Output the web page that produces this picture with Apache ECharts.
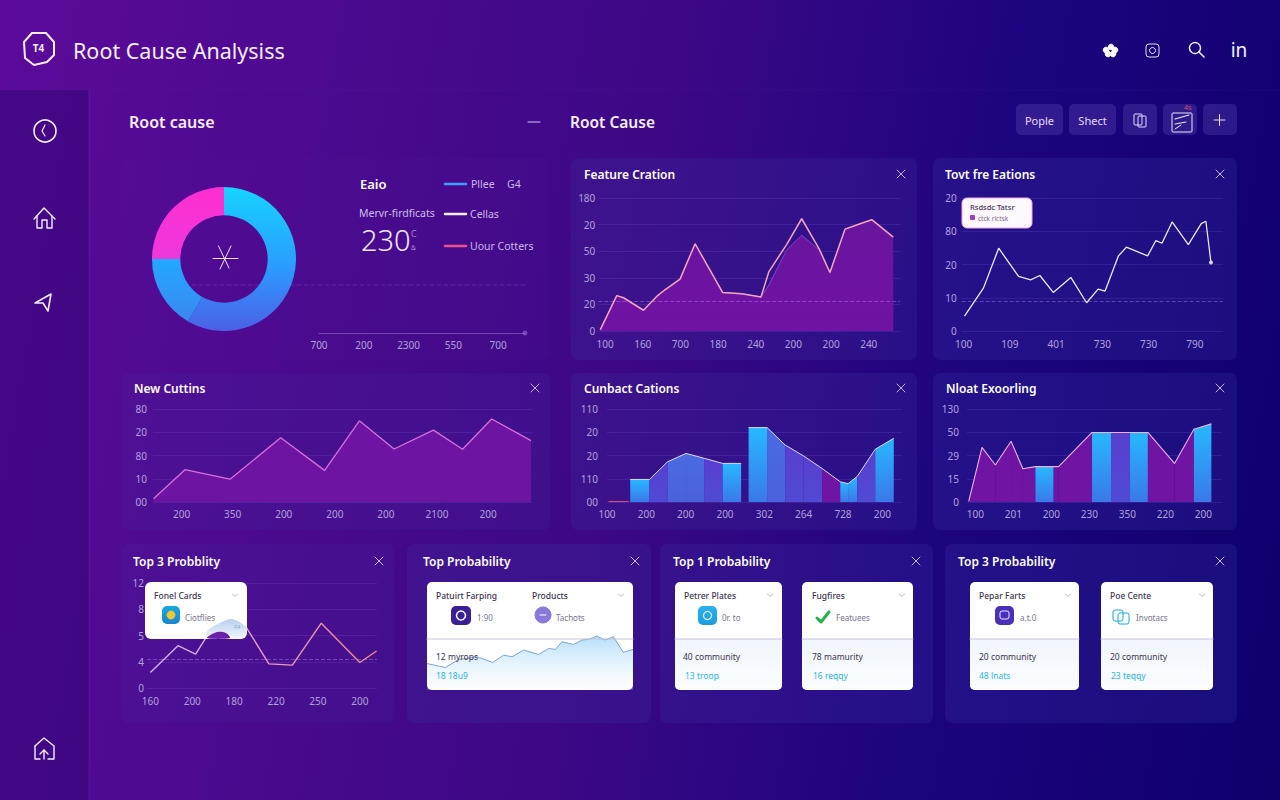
<!DOCTYPE html>
<html>
<head>
<meta charset="utf-8">
<title>Root Cause Analysis</title>
<script src="https://cdn.jsdelivr.net/npm/echarts@6/dist/echarts.min.js"></script>
<style>
  html, body { margin: 0; padding: 0; width: 1280px; height: 800px; overflow: hidden; }
  body { background: linear-gradient(100deg, #5c0a9a 0%, #4c0a90 22%, #3c0886 48%, #1e0480 72%, #0e006c 100%); }
  #main { width: 1280px; height: 800px; }
</style>
</head>
<body>
<div id="main"></div>
<script>
// donut panel
var donutNames = ['Pllee', 'Cellas', 'Uour Cotters'];
var donutValues = [58.3, 16.7, 25];
var donutAxisX = ['700', '200', '2300', '550', '700'];

// Feature Cration
var featX = [-0.13, 0.31, 0.49, 1.02, 1.37, 1.59, 1.99, 2.39, 3.12, 3.63, 4.14, 4.35, 4.82, 5.22, 5.68, 5.97, 6.37, 6.77, 7.08, 7.65];
var featY = [0.8, 26.6, 25, 15.6, 26, 31, 39, 65.6, 29, 28, 25.6, 44.7, 65, 84.4, 62, 44, 76.6, 80.6, 83.7, 70.6];
var featAreaY = [0.8, 26.6, 25, 15.6, 26, 31, 39, 65.6, 29, 28, 25.6, 34.7, 61, 72, 61, 44, 76.6, 80.6, 83.7, 70.6];
var featXTicks = ['100', '160', '700', '180', '240', '200', '200', '240'];
var featYTicks = ['0', '20', '30', '50', '20', '180'];

// Tovt fre Eations
var tovtX = [0.02, 0.43, 0.76, 1.19, 1.45, 1.65, 1.94, 2.32, 2.66, 2.91, 3.06, 3.35, 3.52, 3.98, 4.16, 4.29, 4.51, 4.86, 5.14, 5.24, 5.35];
var tovtY = [4.5, 12.9, 24.9, 16.4, 15.4, 16.7, 11.6, 16.1, 8.5, 12.6, 12, 22.6, 25.2, 22.6, 27.2, 26.4, 32.8, 26, 32.3, 33, 20.6];
var tovtXTicks = ['100', '109', '401', '730', '730', '790'];
var tovtYTicks = ['0', '10', '20', '80', '20'];

// New Cuttins
var newX = [-0.55, 0.065, 0.948, 1.94, 2.8, 3.48, 4.16, 4.93, 5.5, 6.07, 6.84];
var newY = [1.4, 13.9, 9.8, 27.6, 13.6, 34.9, 22.8, 30.9, 22.7, 35.7, 26.4];
var newXTicks = ['200', '350', '200', '200', '200', '2100', '200'];
var newYTicks = ['00', '10', '80', '20', '80'];

// Cunbact Cations (fill is the colour of the stretch up to the next point, null breaks the run)
var cunX = [0.59, 1.08, 1.54, 2.01, 2.47, 2.94, 3.41, 3.5, 3.6, 4.07, 4.53, 5, 5.47, 5.93, 6.13, 6.36, 6.82, 7.29];
var cunY = [9.7, 9.7, 17.3, 20.9, 18.8, 16.6, 16.6, null, 32, 32, 24.5, 19.8, 14.4, 8.7, 7.9, 11, 22.7, 27.4];
var cunFill = ['cyan', 'indigo', 'blue', 'blue', 'indigo', 'cyan', null, null, 'cyan', 'blue', 'indigo', 'indigo', 'plum', 'cyan', 'cyan', 'indigo', 'cyan', null];
var cunStubX = [0.04, 0.55];
var cunStubY = [0.2, 0.2];
var cunXTicks = ['100', '200', '200', '200', '302', '264', '728', '200'];
var cunYTicks = ['00', '110', '20', '20', '110'];

// Nloat Exoorling
var nloatX = [-0.175, 0.175, 0.526, 0.94, 1.25, 1.58, 2.06, 2.19, 3.07, 3.57, 4.07, 4.54, 5.24, 5.75, 6.21];
var nloatY = [0.3, 23.5, 15.9, 26.1, 14.3, 15.2, 15.2, 15.2, 29.9, 29.9, 29.9, 29.9, 16.6, 31.3, 33.6];
var nloatFill = ['plum', 'plum', 'plum', 'plum', 'plum', 'cyan', 'plum', 'plum', 'cyan', 'indigo', 'cyan', 'plum', 'plum', 'cyan', null];
var nloatXTicks = ['100', '201', '200', '230', '350', '220', '200'];
var nloatYTicks = ['0', '15', '29', '50', '130'];

// Top 3 Probblity
var probX = [0, 0.66, 1.08, 1.37, 1.95, 2.29, 2.83, 3.39, 4.08, 5, 5.4];
var probY = [5.9, 16.1, 12.9, 20.2, 26.3, 23.1, 9.2, 8.7, 24.7, 9.7, 14.1];
var probXTicks = ['160', '200', '180', '220', '250', '200'];
var probYTicks = ['0', '4', '5', '8', '12'];

// Top Probability card sparkline
var sparkX = [0, 8.9, 15.4, 24.3, 31.9, 37.2, 41.3, 47, 54.2, 59.1, 62.3, 65.5, 71.2, 75.2, 78.5, 82.5, 86.4, 90.5, 95.3, 100];
var sparkY = [24.5, 20.8, 28.3, 30.7, 25.5, 32.3, 30.7, 37, 32.9, 38.5, 37.6, 44.7, 42.2, 46.3, 46.9, 50, 46.3, 49.4, 34.8, 37.6];

var FONT = '"Noto Sans", sans-serif';
var AXIS_TEXT = '#b2a2da';
var chart = echarts.init(document.getElementById('main'), null, { renderer: 'svg' });

function vgrad(top, bottom) {
  return { type: 'linear', x: 0, y: 0, x2: 0, y2: 1, colorStops: [{ offset: 0, color: top }, { offset: 1, color: bottom }] };
}
var FILLS = {
  cyan: vgrad('#27b8ff', '#3a78ea'),
  blue: vgrad('#4a6be2', '#4a62dc'),
  indigo: vgrad('#5a3ed0', '#4f4ad4'),
  plum: vgrad('#6e14a2', '#7014a4')
};

function pairs(xs, ys) {
  return xs.map(function (x, i) { return [x, ys[i]]; });
}

function xAxisFor(gridIndex, ticks, min, max, margin) {
  return {
    type: 'value', gridIndex: gridIndex, min: min, max: max,
    axisLine: { show: false }, axisTick: { show: false }, splitLine: { show: false },
    axisLabel: {
      customValues: ticks.map(function (t, i) { return i; }),
      formatter: function (v) { return ticks[Math.round(v)]; },
      color: AXIS_TEXT, fontSize: 10, fontFamily: FONT, margin: margin
    }
  };
}
function yAxisFor(gridIndex, ticks, step, margin) {
  return {
    type: 'value', gridIndex: gridIndex, min: 0, max: step * (ticks.length - 1), interval: step,
    axisLine: { show: false }, axisTick: { show: false },
    splitLine: { lineStyle: { color: 'rgba(150,120,235,0.16)', width: 1 } },
    axisLabel: {
      formatter: function (v) { return ticks[Math.round(v / step)]; },
      color: AXIS_TEXT, fontSize: 10, fontFamily: FONT, margin: margin
    }
  };
}

function dashed(value) {
  return {
    silent: true, symbol: 'none', label: { show: false },
    lineStyle: { color: 'rgba(190,150,240,0.4)', type: 'dashed', width: 1 },
    data: [{ yAxis: value }]
  };
}

// polygons between neighbouring points, so each stretch has its own colour
function segmentRows(xs, ys, fills) {
  var rows = [];
  for (var i = 0; i < xs.length - 1; i++) {
    if (fills[i] && ys[i] != null && ys[i + 1] != null) {
      rows.push([xs[i], ys[i], xs[i + 1], ys[i + 1], fills[i]]);
    }
  }
  return rows;
}
function segmentSeries(axisIndex, xs, ys, fills) {
  return {
    type: 'custom', xAxisIndex: axisIndex, yAxisIndex: axisIndex, silent: true,
    encode: { x: [0, 2], y: [1, 3] },
    data: segmentRows(xs, ys, fills),
    renderItem: function (params, api) {
      var a = api.coord([api.value(0), 0]);
      var b = api.coord([api.value(0), api.value(1)]);
      var c = api.coord([api.value(2), api.value(3)]);
      var d = api.coord([api.value(2), 0]);
      return { type: 'polygon', shape: { points: [a, b, c, d] }, style: { fill: FILLS[api.value(4)] } };
    }
  };
}

// ---- chrome helpers
var els = [];
function rect(x, y, w, h, r, fill, z, stroke) {
  var style = { fill: fill };
  if (stroke) { style.stroke = stroke; style.lineWidth = 1; }
  els.push({ type: 'rect', z: z, silent: true, shape: { x: x, y: y, width: w, height: h, r: r }, style: style });
}
function txt(x, y, text, size, color, weight, z, align) {
  els.push({
    type: 'text', z: z || 3, silent: true, x: x, y: y,
    style: { text: text, fontSize: size, fill: color, fontWeight: weight || 400, fontFamily: FONT, align: align || 'left', verticalAlign: 'middle' }
  });
}
function stroke(points, color, width, z, dash) {
  els.push({
    type: 'polyline', z: z || 3, silent: true, shape: { points: points },
    style: { stroke: color, lineWidth: width || 1, fill: null, lineDash: dash || null, lineCap: 'round', lineJoin: 'round' }
  });
}
function ring(x, y, r, color, width, z, fill) {
  els.push({
    type: 'circle', z: z || 3, silent: true, shape: { cx: x, cy: y, r: r },
    style: { stroke: color, lineWidth: width || 1, fill: fill || null }
  });
}
function blob(points, fill) {
  els.push({ type: 'polygon', z: 6, silent: true, shape: { points: points, smooth: 0.3 }, style: { fill: fill } });
}
function closeMark(x, y) {
  stroke([[x - 4, y - 4], [x + 4, y + 4]], '#c6b4ee', 1);
  stroke([[x - 4, y + 4], [x + 4, y - 4]], '#c6b4ee', 1);
}
function chevron(x, y) {
  stroke([[x - 2.5, y - 1], [x, y + 1.5], [x + 2.5, y - 1]], '#a8a4b6', 0.8, 7);
}

// header and sidebar
rect(0, 90, 89, 710, 0, 'rgba(40,5,110,0.42)', -3);
stroke([[89, 90], [89, 800]], 'rgba(130,80,210,0.2)', 1, -2);
stroke([[0, 90], [1280, 90]], 'rgba(120,80,200,0.08)', 1, -2);

// logo
stroke([[32, 33], [46, 33], [54, 42], [54, 55], [47, 62], [47, 62], [34, 65], [25, 58], [24, 42], [32, 33]], '#f4ecff', 2);
txt(38.5, 48, 'T4', 10, '#f4ecff', 700, 3, 'center');
txt(73, 50, 'Root Cause Analysiss', 21.5, '#f5eeff', 400);

// top right icons
[[1111, 47], [1115, 50], [1113, 54], [1108, 54], [1106, 50]].forEach(function (p) {
  ring(p[0], p[1], 2.8, '#ffffff', 1, 3, '#ffffff');
});
rect(1146, 44, 13, 13, 3, 'none', 3, '#e8e0ff');
ring(1152.5, 50.5, 3, '#e8e0ff', 1);
ring(1195, 48, 5.5, '#f0eaff', 1.4);
stroke([[1199, 52], [1204, 57]], '#f0eaff', 1.6);
txt(1239, 50, 'in', 19, '#f5f0ff', 400, 3, 'center');

// sidebar icons
ring(45, 131, 11, '#f4ecff', 1.6);
stroke([[45, 125], [42, 131], [45, 136]], '#f4ecff', 1.2);
stroke([[34, 219], [44, 208], [55, 219]], '#f4ecff', 1.4);
stroke([[37, 216], [37, 228], [42, 228], [42, 220], [47, 220], [47, 228], [52, 228], [52, 216]], '#f4ecff', 1.4);
stroke([[35, 303], [51, 294], [48, 311], [43, 303], [35, 303]], '#f4ecff', 1.6);
stroke([[35, 746], [44, 738], [54, 746], [54, 759], [48, 759]], '#f4ecff', 1.4);
stroke([[35, 746], [35, 759], [40, 759]], '#f4ecff', 1.4);
stroke([[44, 759], [44, 750], [40, 754]], '#f4ecff', 1.4);
stroke([[44, 750], [48, 754]], '#f4ecff', 1.4);

// section headings
txt(129, 122, 'Root cause', 16, '#f5eeff', 600);
stroke([[528, 122], [540, 122]], '#d8c8f4', 1);
txt(570, 122, 'Root Cause', 15.5, '#f5eeff', 600);

// toolbar
var BTN = 'rgba(115,95,200,0.26)';
rect(1016, 104, 47, 31, 5, BTN, -1);
rect(1069, 104, 47, 31, 5, BTN, -1);
rect(1123, 104, 34, 31, 5, BTN, -1);
rect(1163, 104, 34, 31, 5, BTN, -1);
rect(1203, 104, 34, 31, 5, BTN, -1);
txt(1039.5, 120, 'Pople', 11, '#e6dcff', 400, 3, 'center');
txt(1092.5, 120, 'Shect', 11, '#e6dcff', 400, 3, 'center');
rect(1134, 114, 8, 11, 1, 'none', 3, '#e6dcff');
rect(1138, 116, 8, 11, 1, 'none', 3, '#e6dcff');
rect(1172, 113, 20, 19, 1, 'none', 3, '#ece4ff');
stroke([[1175, 119], [1189, 115]], '#ece4ff', 1.2);
stroke([[1175, 124], [1186, 122]], '#ece4ff', 1);
stroke([[1175, 129], [1181, 125]], '#ece4ff', 1);
txt(1184, 107, '4s', 7, '#d0507a', 400);
stroke([[1214, 120], [1225, 120]], '#e6dcff', 1);
stroke([[1219.5, 114.5], [1219.5, 125.5]], '#e6dcff', 1);

// panels
[
  [122, 158, 426, 202, 'rgba(90,30,160,0.1)'],
  [571, 158, 346, 202, 'rgba(60,50,160,0.26)'],
  [933, 158, 304, 202, 'rgba(60,60,170,0.24)'],
  [122, 373, 428, 157, 'rgba(70,40,160,0.22)'],
  [571, 373, 346, 157, 'rgba(60,50,160,0.26)'],
  [933, 373, 304, 157, 'rgba(60,60,170,0.24)'],
  [122, 544, 272, 179, 'rgba(70,40,160,0.2)'],
  [407, 544, 244, 179, 'rgba(60,50,160,0.25)'],
  [660, 544, 273, 179, 'rgba(60,50,165,0.25)'],
  [945, 544, 292, 179, 'rgba(60,60,170,0.24)']
].forEach(function (p) { rect(p[0], p[1], p[2], p[3], 7, p[4], -2); });

var closeAt = [[901, 174], [1220, 174], [535, 388], [901, 388], [1220, 388], [379, 561], [635, 561], [916, 561], [1220, 561]];
closeAt.forEach(function (c) { closeMark(c[0], c[1]); });

var panelTitles = [
  ['Feature Cration', 584, 174], ['Tovt fre Eations', 945, 174],
  ['New Cuttins', 134, 388], ['Cunbact Cations', 584, 388], ['Nloat Exoorling', 946, 388],
  ['Top 3 Probblity', 133, 561], ['Top Probability', 423, 561], ['Top 1 Probability', 673, 561], ['Top 3 Probability', 958, 561]
];

// donut panel text
txt(360, 184, 'Eaio', 13, '#ffffff', 600);
txt(359, 213, 'Mervr-firdficats', 10.5, '#d0bcec', 400);
txt(361, 239, '230', 29, '#eee4ff', 300);
txt(411, 233, 'C', 9, '#d0bcec', 300);
txt(411, 247, '&', 7, '#d0bcec', 300);
stroke([[445, 184], [466, 184]], '#3f9cff', 2.5);
stroke([[445, 214], [466, 214]], '#f4eeff', 2.5);
stroke([[445, 246], [466, 246]], '#f0508c', 2.5);
txt(471, 184, donutNames[0], 10.5, '#cdb8ea');
txt(507, 184, 'G4', 10.5, '#cdb8ea');
txt(470, 214, donutNames[1], 10.5, '#cdb8ea');
txt(470, 246, donutNames[2], 10.5, '#cdb8ea');
stroke([[213, 258.5], [238, 258.5]], '#ece4ff', 1);
stroke([[218.5, 246], [229, 268]], '#ece4ff', 1);
stroke([[231, 246], [220, 269]], '#ece4ff', 1);
stroke([[192, 285], [528, 285]], 'rgba(190,150,240,0.2)', 1, 1, [4, 3]);

// tooltip in Tovt fre Eations
rect(962, 198, 70, 30, 5, '#fff8fe', 5, '#f4a8e0');
txt(970, 207, 'Rsdsdc Tatsr', 7.5, '#443058', 500, 6);
rect(970, 215, 5, 5, 1, '#a43cc0', 6);
txt(978, 218, 'ctck rlctsk', 6.5, '#7a6a8a', 400, 6);

// white cards
function card(x, y, w, h) {
  rect(x, y, w, h, 5, '#ffffff', -1);
  els.push({
    type: 'rect', z: -1, silent: true, shape: { x: x, y: 639, width: w, height: y + h - 639, r: [0, 0, 5, 5] },
    style: { fill: vgrad('#f1f6fd', '#fbfdff') }
  });
  stroke([[x, 639], [x + w, 639]], '#c4c4d6', 1, 6);
}
var INK = '#3c3450', SOFT = '#77748c', TEAL = '#2cb4dc';

// Fonel Cards floating card over the line chart
rect(145, 582, 102, 57, 6, '#ffffff', 5);
txt(154, 595, 'Fonel Cards', 8.5, INK, 500, 6);
chevron(235, 595);
rect(162, 606, 18, 18, 5, vgrad('#18a8e4', '#1a84cc'), 6);
ring(171, 615, 4, '#f4c830', 1, 7, '#f4c830');
txt(185, 617, 'Ciotflies', 8, SOFT, 400, 6);
blob([[206, 637], [208, 630], [220, 623], [232, 619], [246, 627], [245, 635], [235, 638], [226, 633], [217, 632], [207, 638]], vgrad('#b8d0f0', '#eef3fb'));
blob([[207, 638], [217, 632], [226, 633], [230, 638]], '#6a20a8');
txt(234, 627, 'F4', 6, '#8aa8cc', 400, 7);

// Top Probability card
rect(427, 582, 206, 108, 5, '#ffffff', -1);
stroke([[427, 639], [633, 639]], '#c4c4d6', 1, 6);
txt(436, 595, 'Patuirt Farping', 8.5, INK, 500, 6);
txt(532, 595, 'Products', 8.5, INK, 500, 6);
chevron(621, 595);
rect(451, 606, 20, 19, 5, '#3a1f96', 6);
ring(461, 615.5, 4.5, '#f0f0ff', 1.6, 7);
txt(477, 617, '1:90', 8, SOFT, 400, 6);
ring(543, 615, 8, '#8a78d8', 1, 6, '#8a78d8');
stroke([[540, 615], [546, 615]], '#ffffff', 1, 7);
txt(556, 617, 'Tachots', 8, SOFT, 400, 6);
txt(436, 656, '12 myrops', 8.5, INK, 400, 6);
txt(436, 675, '18 18u9', 8.5, TEAL, 400, 6);

// Top 1 Probability cards
card(675, 582, 107, 108);
txt(684, 595, 'Petrer Plates', 8.5, INK, 500, 6);
chevron(770, 595);
rect(698, 606, 19, 19, 5, vgrad('#2cb0f0', '#1c9ce0'), 6);
ring(707.5, 615.5, 4, '#e0f4ff', 1.2, 7);
txt(722, 617, '0r. to', 8, SOFT, 400, 6);
txt(683, 656, '40 community', 8.5, INK, 400, 6);
txt(685, 675, '13 troop', 8.5, TEAL, 400, 6);

card(802, 582, 111, 108);
txt(812, 595, 'Fugfires', 8.5, INK, 500, 6);
chevron(902, 595);
stroke([[817, 618], [821, 622], [829, 612]], '#22b04a', 3, 6);
txt(836, 617, 'Featuees', 8, SOFT, 400, 6);
txt(812, 656, '78 mamurity', 8.5, INK, 400, 6);
txt(813, 675, '16 reqqy', 8.5, TEAL, 400, 6);

// Top 3 Probability cards
card(970, 582, 109, 108);
txt(979, 595, 'Pepar Farts', 8.5, INK, 500, 6);
chevron(1068, 595);
rect(995, 606, 19, 19, 5, '#4a30b8', 6);
rect(1000, 611, 9, 8, 2, 'none', 7, '#eae6ff');
txt(1020, 617, 'a.t.0', 8, SOFT, 400, 6);
txt(979, 656, '20 community', 8.5, INK, 400, 6);
txt(979, 675, '48 lnats', 8.5, TEAL, 400, 6);

card(1101, 582, 112, 108);
txt(1110, 595, 'Poe Cente', 8.5, INK, 500, 6);
chevron(1202, 595);
rect(1113, 610, 10, 11, 2, 'none', 6, '#18a8d8');
rect(1118, 613, 11, 11, 2, 'none', 6, '#18a8d8');
txt(1136, 617, 'Invotacs', 8, SOFT, 400, 6);
txt(1110, 656, '20 community', 8.5, INK, 400, 6);
txt(1111, 675, '23 teqqy', 8.5, TEAL, 400, 6);

var option = {
  animation: false,
  textStyle: { fontFamily: FONT },
  title: panelTitles.map(function (t) {
    return {
      text: t[0], left: t[1], top: t[2] - 9, padding: 0, z: 3,
      textStyle: { color: '#ffffff', fontSize: 12, fontWeight: 600, fontFamily: FONT, lineHeight: 18 }
    };
  }),
  grid: [
    { left: 598.3, top: 198, width: 301.7, height: 133 },
    { left: 961.7, top: 198, width: 261.3, height: 133 },
    { left: 153, top: 409, width: 379, height: 93 },
    { left: 607, top: 409, width: 295, height: 93 },
    { left: 967, top: 409, width: 255, height: 93 },
    { left: 147, top: 583, width: 230, height: 105 },
    { left: 427, top: 582, width: 206, height: 108 },
    { left: 319, top: 300, width: 206, height: 33 }
  ],
  xAxis: [
    xAxisFor(0, featXTicks, -0.18, 7.83, 8),
    xAxisFor(1, tovtXTicks, -0.04, 5.61, 8),
    xAxisFor(2, newXTicks, -0.56, 6.86, 7),
    xAxisFor(3, cunXTicks, 0, 7.5, 7),
    xAxisFor(4, nloatXTicks, -0.22, 6.49, 7),
    xAxisFor(5, probXTicks, -0.08, 5.41, 8),
    { type: 'value', gridIndex: 6, min: 0, max: 100, show: false },
    {
      type: 'value', gridIndex: 7, min: 0, max: 4.6,
      axisLine: { show: true, lineStyle: { color: 'rgba(170,140,230,0.45)' }, symbol: ['none', 'circle'], symbolSize: [5, 5] },
      axisTick: { show: false }, splitLine: { show: false },
      axisLabel: {
        customValues: [0, 1, 2, 3, 4],
        formatter: function (v) { return donutAxisX[Math.round(v)]; },
        color: AXIS_TEXT, fontSize: 10, fontFamily: FONT, margin: 7
      }
    }
  ],
  yAxis: [
    yAxisFor(0, featYTicks, 20, 3),
    yAxisFor(1, tovtYTicks, 10, 5),
    yAxisFor(2, newYTicks, 10, 6),
    yAxisFor(3, cunYTicks, 10, 9),
    yAxisFor(4, nloatYTicks, 10, 8),
    yAxisFor(5, probYTicks, 10, 3),
    { type: 'value', gridIndex: 6, min: 0, max: 100, show: false },
    { type: 'value', gridIndex: 7, min: 0, max: 1, show: false }
  ],
  series: [
    {
      type: 'pie', center: [224, 259], radius: [43.7, 72], startAngle: 90, silent: true,
      label: { show: false }, labelLine: { show: false },
      data: [
        { name: donutNames[0], value: donutValues[0], itemStyle: { color: { type: 'linear', x: 0, y: 0, x2: 0, y2: 1, colorStops: [{ offset: 0, color: '#16d4ff' }, { offset: 0.55, color: '#2a9cff' }, { offset: 1, color: '#4c60e6' }] } } },
        { name: donutNames[1], value: donutValues[1], itemStyle: { color: vgrad('#22a8ff', '#3a88f0') } },
        { name: donutNames[2], value: donutValues[2], itemStyle: { color: vgrad('#ff2ed0', '#ee38dc') } }
      ]
    },
    // Feature Cration
    {
      type: 'line', xAxisIndex: 0, yAxisIndex: 0, symbol: 'none', silent: true,
      data: pairs(featX, featAreaY),
      lineStyle: { color: 'rgba(150,90,220,0.7)', width: 1 },
      areaStyle: { color: vgrad('#68159f', '#7012a4'), opacity: 1 }
    },
    {
      type: 'line', xAxisIndex: 0, yAxisIndex: 0, symbol: 'none', silent: true, z: 3,
      data: pairs(featX, featY),
      lineStyle: { color: '#f4a4bc', width: 1.5 },
      markLine: dashed(22)
    },
    // Tovt fre Eations
    {
      type: 'line', xAxisIndex: 1, yAxisIndex: 1, symbol: 'none', silent: true,
      data: pairs(tovtX, tovtY),
      lineStyle: { color: '#ece6ff', width: 1.3 },
      markLine: dashed(8.8)
    },
    {
      type: 'scatter', xAxisIndex: 1, yAxisIndex: 1, symbolSize: 4, silent: true,
      data: [[tovtX[tovtX.length - 1], tovtY[tovtY.length - 1]]],
      itemStyle: { color: '#ffffff' }
    },
    // New Cuttins
    {
      type: 'line', xAxisIndex: 2, yAxisIndex: 2, symbol: 'none', silent: true,
      data: pairs(newX, newY),
      lineStyle: { color: '#d870dc', width: 1.3 },
      areaStyle: { color: '#6e14a2', opacity: 1 }
    },
    // Cunbact Cations
    segmentSeries(3, cunX, cunY, cunFill),
    {
      type: 'line', xAxisIndex: 3, yAxisIndex: 3, symbol: 'none', silent: true, z: 3,
      data: pairs(cunX, cunY),
      lineStyle: { color: '#d8d8ff', width: 1 }
    },
    {
      type: 'line', xAxisIndex: 3, yAxisIndex: 3, symbol: 'none', silent: true,
      data: pairs(cunStubX, cunStubY),
      lineStyle: { color: '#e0507a', width: 1 }
    },
    // Nloat Exoorling
    segmentSeries(4, nloatX, nloatY, nloatFill),
    {
      type: 'line', xAxisIndex: 4, yAxisIndex: 4, symbol: 'none', silent: true, z: 3,
      data: pairs(nloatX, nloatY),
      lineStyle: { color: '#eeb0ec', width: 1.1 }
    },
    // Top 3 Probblity
    {
      type: 'line', xAxisIndex: 5, yAxisIndex: 5, symbol: 'none', silent: true,
      data: pairs(probX, probY),
      lineStyle: {
        width: 1.4,
        color: { type: 'linear', x: 0, y: 0, x2: 1, y2: 0, colorStops: [{ offset: 0, color: '#cbb4ff' }, { offset: 0.45, color: '#e8a0c8' }, { offset: 1, color: '#f08c80' }] }
      },
      markLine: dashed(10.9)
    },
    // Top Probability sparkline
    {
      type: 'line', xAxisIndex: 6, yAxisIndex: 6, symbol: 'none', silent: true,
      data: pairs(sparkX, sparkY),
      lineStyle: { color: '#7ea6cc', width: 1 },
      areaStyle: { color: vgrad('rgba(176,220,250,0.95)', 'rgba(240,248,255,0.2)'), opacity: 1 }
    }
  ],
  graphic: { elements: els }
};
chart.setOption(option);
</script>
</body>
</html>
